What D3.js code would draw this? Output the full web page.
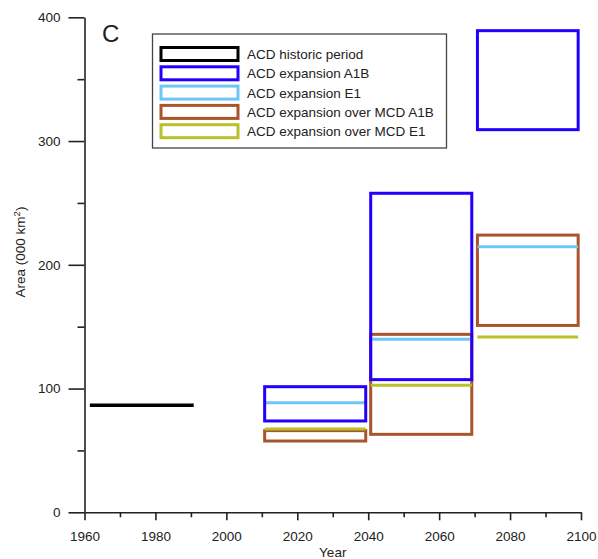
<!DOCTYPE html>
<html>
<head>
<meta charset="utf-8">
<script src="https://cdn.jsdelivr.net/npm/d3@7"></script>
<style>
  body { margin: 0; background: #fff; }
  text { font-family: "Liberation Sans", Arial, sans-serif; fill: #222; }
</style>
</head>
<body>
<div id="chart"></div>
<script>
// data (area in 000 km2)
const periods = ["1961-1990", "2011-2040", "2041-2070", "2071-2100"];
const periodStart = [1961.5, 2010.8, 2040.7, 2070.8];
const periodEnd = [1990.8, 2039.3, 2069.2, 2099.2];
const historic = [86.5, null, null, null];
const a1bLow = [null, 73.8, 107.2, 309.2];
const a1bHigh = [null, 101.5, 257.8, 389.2];
const e1 = [null, 88.6, 139.8, 214.6];
const mcdA1bLow = [null, 57.6, 63.0, 151.0];
const mcdA1bHigh = [null, 66.0, 143.8, 224.0];
const mcdE1 = [null, 67.3, 102.6, 141.7];

const legendLabels = ["ACD historic period", "ACD expansion A1B", "ACD expansion E1",
  "ACD expansion over MCD A1B", "ACD expansion over MCD E1"];
const legendColors = ["#000000", "#2200ff", "#6fc6f5", "#a9552b", "#b8c02a"];

const xTicks = [1960, 1980, 2000, 2020, 2040, 2060, 2080, 2100];
const yTicks = [0, 100, 200, 300, 400];

const width = 598, height = 559;

const svg = d3.select("#chart").append("svg")
  .attr("width", width)
  .attr("height", height);

const x = d3.scaleLinear().domain([1960, 2100]).range([84.5, 581]);
const y = d3.scaleLinear().domain([0, 400]).range([512.3, 17.3]);

// axes
const yAxis = svg.append("g")
  .attr("transform", `translate(${x(1960)},0)`)
  .call(d3.axisLeft(y).tickValues(yTicks).tickSize(16).tickPadding(8).tickSizeOuter(0));
svg.append("g")
  .attr("transform", `translate(${x(1960)},0)`)
  .call(d3.axisLeft(y).tickValues([50, 150, 250, 350]).tickSize(7).tickFormat("").tickSizeOuter(0))
  .select(".domain").remove();

const xAxis = svg.append("g")
  .attr("transform", `translate(0,${y(0)})`)
  .call(d3.axisBottom(x).tickValues(xTicks).tickSize(8).tickPadding(11).tickFormat(d3.format("d")).tickSizeOuter(0));
svg.append("g")
  .attr("transform", `translate(0,${y(0)})`)
  .call(d3.axisBottom(x).tickValues([1970, 1990, 2010, 2030, 2050, 2070, 2090]).tickSize(5).tickFormat("").tickSizeOuter(0))
  .select(".domain").remove();

svg.selectAll(".domain, .tick line").attr("stroke", "#222").attr("stroke-width", 1.6);
svg.selectAll(".tick text").attr("font-size", "13.5px").attr("fill", "#222");

svg.append("text")
  .attr("x", (x(1960) + x(2100)) / 2)
  .attr("y", 557)
  .attr("text-anchor", "middle")
  .attr("font-size", "13.5px")
  .text("Year");

const yLabel = svg.append("text")
  .attr("transform", "rotate(-90)")
  .attr("x", -252)
  .attr("y", 25)
  .attr("text-anchor", "middle")
  .attr("font-size", "13.5px")
  .text("Area (000 km");
yLabel.append("tspan").attr("baseline-shift", "super").attr("font-size", "9.5px").text("2");
yLabel.append("tspan").text(")");

svg.append("text")
  .attr("x", 102)
  .attr("y", 42)
  .attr("font-size", "24px")
  .text("C");

// marks
const idx = d3.range(periods.length);
const sw = 3;

function boxes(low, high, color) {
  svg.append("g").selectAll("rect")
    .data(idx.filter(i => low[i] != null))
    .enter().append("rect")
    .attr("x", i => x(periodStart[i]))
    .attr("width", i => x(periodEnd[i]) - x(periodStart[i]))
    .attr("y", i => y(high[i]))
    .attr("height", i => y(low[i]) - y(high[i]))
    .attr("fill", "none")
    .attr("stroke", color)
    .attr("stroke-width", sw);
}
function lines(vals, color, w) {
  svg.append("g").selectAll("line")
    .data(idx.filter(i => vals[i] != null))
    .enter().append("line")
    .attr("x1", i => x(periodStart[i]))
    .attr("x2", i => x(periodEnd[i]))
    .attr("y1", i => y(vals[i]))
    .attr("y2", i => y(vals[i]))
    .attr("stroke", color)
    .attr("stroke-width", w);
}

boxes(mcdA1bLow, mcdA1bHigh, legendColors[3]);
lines(mcdE1, legendColors[4], sw);
lines(e1, legendColors[2], sw);
boxes(a1bLow, a1bHigh, legendColors[1]);
lines(historic, legendColors[0], 3.5);

// legend
const legend = svg.append("g");
legend.append("rect")
  .attr("x", 152.5).attr("y", 34)
  .attr("width", 294).attr("height", 114)
  .attr("fill", "#fff").attr("stroke", "#444").attr("stroke-width", 1.3);

const rows = legend.selectAll("g.row")
  .data(legendLabels)
  .enter().append("g")
  .attr("class", "row")
  .attr("transform", (d, i) => `translate(0,${54 + i * 19.3})`);
rows.append("rect")
  .attr("x", 161).attr("y", -6.5)
  .attr("width", 77).attr("height", 13)
  .attr("fill", "none")
  .attr("stroke", (d, i) => legendColors[i])
  .attr("stroke-width", 3);
rows.append("text")
  .attr("x", 247).attr("y", 0).attr("dy", "0.37em")
  .attr("font-size", "13.5px")
  .text(d => d);
</script>
</body>
</html>
